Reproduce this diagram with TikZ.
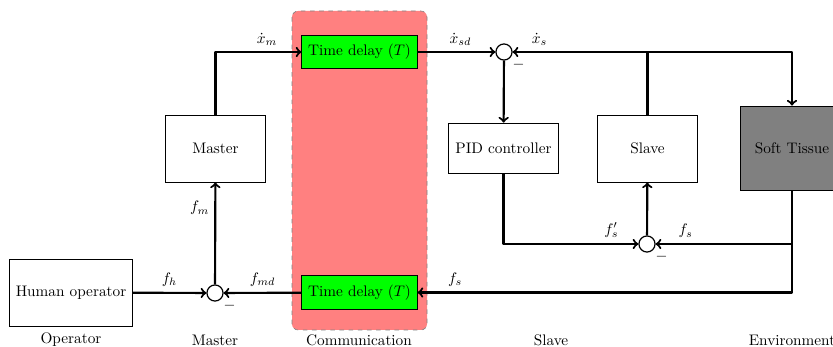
\documentclass[tikz,border=0pt]{standalone}
\usetikzlibrary{arrows}
\begin{document}
\begin{tikzpicture}[x=0.023cm,y=-0.023cm,
    blk/.style={draw,semithick,minimum width=2.32cm,minimum height=1.54cm},
    delay/.style={draw,semithick,fill=green,minimum width=2.65cm,minimum height=0.78cm},
    sum/.style={draw,thick,circle,fill=white,inner sep=0pt,minimum size=0.37cm,
      label={[label distance=-3pt]-35:$-$}},
    sig/.style={line width=1.4pt,->,line join=round}]
  \useasboundingbox (0,0) rectangle (833,347);
  \draw[dashed,gray,fill=red!50,rounded corners=4pt] (292,11) rectangle (427,330);
  \node[blk,minimum width=2.81cm] (human) at (71,292.5) {Human operator};
  \node[sum] (summ) at (215,293) {};
  \node[blk] (master) at (215.5,148.5) {Master};
  \node[delay] (tdup) at (359.5,52) {Time delay $(T)$};
  \node[delay] (tddown) at (359.5,292.5) {Time delay $(T)$};
  \node[sum] (sums) at (504,52) {};
  \node[blk,minimum width=2.51cm,minimum height=1.17cm] (pid) at (503.5,148.5) {PID controller};
  \node[blk] (slave) at (647.5,148.5) {Slave};
  \node[blk,fill=gray,minimum width=2.35cm,minimum height=1.93cm] (tissue) at (792,148) {Soft Tissue};
  \node[sum] (sumf) at (647,244) {};
  \coordinate (split) at (slave.north |- sums);
  % signal paths
  \draw[sig] (human) -- (summ) node[midway,above] {$f_h$};
  \draw[sig] (summ) -- (master) node[pos=.75,left] {$f_m$};
  \draw[sig] (master.north) |- (tdup.west) node[pos=.8,above] {$\dot{x}_m$};
  \draw[sig] (tdup) -- (sums) node[pos=.55,above] {$\dot{x}_{sd}$};
  \draw[sig] (sums) -- (pid);
  \draw[sig] (slave.north) |- (sums.east) node[pos=.9,above] {$\dot{x}_s$};
  \draw[sig] (split) -| (tissue.north);
  \draw[sig] (pid.south) |- (sumf.west) node[pos=.9,above] {$f_s'$};
  \draw[sig] (tissue.south) |- (sumf.east) node[pos=.89,above] {$f_s$};
  \draw[sig] (sumf) -- (slave);
  \draw[sig] (tissue.south) |- (tddown.east) node[pos=.95,above] {$f_s$};
  \draw[sig] (tddown) -- (summ) node[midway,above] {$f_{md}$};
  % group names
  \node (opname) at (71,340) {Operator};
  \node (mname) at (215,340) {Master};
  \node (cname) at (359,340) {Communication};
  \node (sname) at (551,340) {Slave};
  \node (ename) at (792,340) {Environment};
\end{tikzpicture}
\end{document}
